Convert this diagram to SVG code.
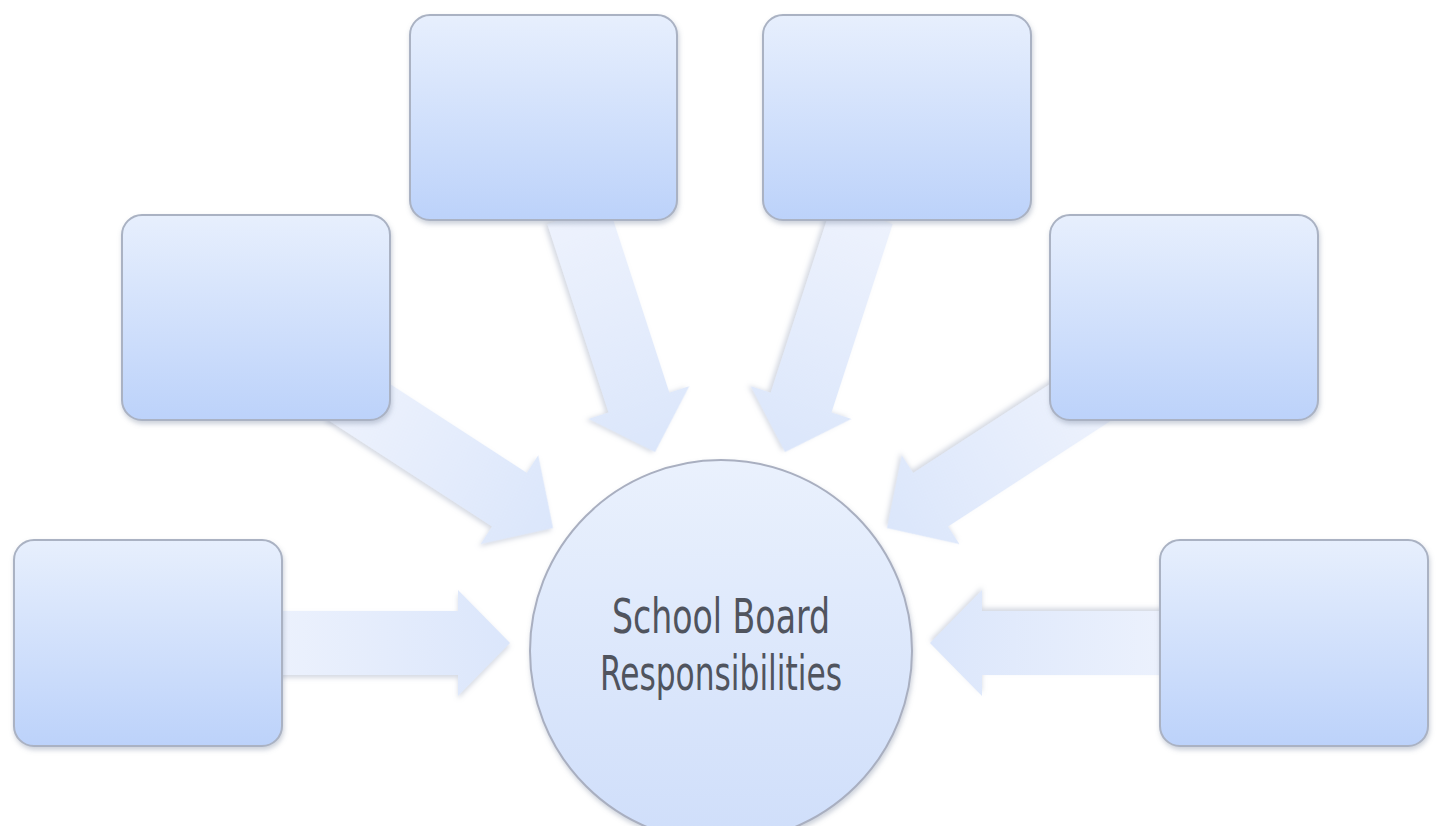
<svg xmlns="http://www.w3.org/2000/svg" width="1439" height="826" viewBox="0 0 1439 826">
  <defs>
    <linearGradient id="boxGrad" x1="0" y1="0" x2="0" y2="1">
      <stop offset="0" stop-color="#e7effd"/>
      <stop offset="1" stop-color="#bcd2fa"/>
    </linearGradient>
    <linearGradient id="circGrad" x1="0" y1="0" x2="0" y2="1">
      <stop offset="0" stop-color="#eaf1fd"/>
      <stop offset="1" stop-color="#cfdefa"/>
    </linearGradient>
    <linearGradient id="arrowGrad" x1="0" y1="0" x2="1" y2="0">
      <stop offset="0" stop-color="#edf2fd"/>
      <stop offset="1" stop-color="#dbe6fb"/>
    </linearGradient>
    <filter id="shadow" x="-20%" y="-20%" width="140%" height="140%">
      <feDropShadow dx="1" dy="3" stdDeviation="2.5" flood-color="#7d8aa3" flood-opacity="0.4"/>
    </filter>
    <filter id="ashadow" x="-20%" y="-20%" width="140%" height="140%">
      <feDropShadow dx="0" dy="3" stdDeviation="2.5" flood-color="#95a1b8" flood-opacity="0.4"/>
    </filter>
    <polygon id="arrow" points="0,0 -52,-53 -52,-32 -250,-32 -250,32 -52,32 -52,53"/>
  </defs>
  <style>
    .box { fill: url(#boxGrad); stroke: #aab2c3; stroke-width: 2; filter: url(#shadow); }
    .arr { fill: url(#arrowGrad); filter: url(#ashadow); }
    .label { font-family: "Liberation Sans Narrow", "DejaVu Sans Condensed", "Liberation Sans", sans-serif; font-size: 48px; fill: #50545e; text-anchor: middle; }
  </style>
  <rect width="1439" height="826" fill="#ffffff"/>

  <g id="connectors">
    <use href="#arrow" class="arr" transform="translate(510,643)"/>
    <use href="#arrow" class="arr" transform="translate(553,528) rotate(33)"/>
    <use href="#arrow" class="arr" transform="translate(655,452) rotate(72)"/>
    <use href="#arrow" class="arr" transform="translate(785,452) rotate(108)"/>
    <use href="#arrow" class="arr" transform="translate(887,528) rotate(147)"/>
    <use href="#arrow" class="arr" transform="translate(930,643) rotate(180)"/>
  </g>

  <g id="box-bottom-left"><rect class="box" x="14" y="540" width="268" height="206" rx="20"/></g>
  <g id="box-middle-left"><rect class="box" x="122" y="215" width="268" height="205" rx="20"/></g>
  <g id="box-top-left"><rect class="box" x="410" y="15" width="267" height="205" rx="20"/></g>
  <g id="box-top-right"><rect class="box" x="763" y="15" width="268" height="205" rx="20"/></g>
  <g id="box-middle-right"><rect class="box" x="1050" y="215" width="268" height="205" rx="20"/></g>
  <g id="box-bottom-right"><rect class="box" x="1160" y="540" width="268" height="206" rx="20"/></g>

  <g id="center">
    <circle cx="721" cy="651" r="191" fill="url(#circGrad)" stroke="#a9afc0" stroke-width="2" filter="url(#shadow)"/>
    <text class="label" x="721" y="633" textLength="218" lengthAdjust="spacingAndGlyphs">School Board</text>
    <text class="label" x="721" y="690" textLength="242" lengthAdjust="spacingAndGlyphs">Responsibilities</text>
  </g>
</svg>
